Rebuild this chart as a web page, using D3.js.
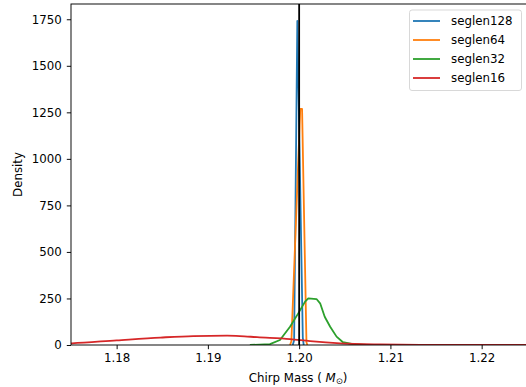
<!DOCTYPE html>
<html>
<head>
<meta charset="utf-8">
<script src="https://cdn.jsdelivr.net/npm/d3@7"></script>
<style>
  body { margin: 0; background: #fff; }
  svg { display: block; font-family: "DejaVu Sans", sans-serif; }
</style>
</head>
<body>
<div id="chart"></div>
<script>
// chirp mass posterior densities per segment length
const seglen128 = [[1.1993, 0], [1.19945, 25], [1.1998, 1741], [1.2004, 40], [1.2005, 0]];
const seglen64 = [[1.1990, 0], [1.19915, 20], [1.20012, 1268], [1.20032, 1268], [1.2008, 15], [1.2009, 0]];
const seglen32 = [[1.1946, 0], [1.1968, 5], [1.1979, 27], [1.1990, 98], [1.1999, 170], [1.20065, 233],
  [1.2010, 251], [1.2019, 247], [1.2023, 224], [1.2028, 152], [1.2034, 98], [1.2041, 45],
  [1.2048, 15], [1.2059, 4], [1.2074, 1], [1.2089, 0]];
const seglen16 = [[1.170, 3], [1.1751, 9], [1.1800, 25], [1.1848, 40], [1.1884, 48], [1.1921, 50],
  [1.1935, 48], [1.1954, 42], [1.1990, 32], [1.2012, 21], [1.2045, 9], [1.2089, 3],
  [1.2133, 1], [1.2250, 0.2], [1.230, 0]];
const seriesNames = ["seglen128", "seglen64", "seglen32", "seglen16"];
const seriesData = [seglen128, seglen64, seglen32, seglen16];
const colors = ["#1f77b4", "#ff7f0e", "#2ca02c", "#d62728"];
const xTicks = [1.18, 1.19, 1.20, 1.21, 1.22];
const yTicks = [0, 250, 500, 750, 1000, 1250, 1500, 1750];
const trueMass = 1.20;

const W = 526, H = 387;
const m = {left: 71, right: 527.3, top: 4, bottom: 345};
const fs = 11.8;

const svg = d3.select("#chart").append("svg")
  .attr("width", W).attr("height", H);

const x = d3.scaleLinear().domain([1.175, 1.225]).range([m.left, m.right]);
const y = d3.scaleLinear().domain([0, 1832]).range([m.bottom, m.top]);

svg.append("defs").append("clipPath").attr("id", "clip")
  .append("rect").attr("x", m.left).attr("y", m.top)
  .attr("width", m.right - m.left).attr("height", m.bottom - m.top);

const plot = svg.append("g").attr("clip-path", "url(#clip)");

const line = d3.line().x(d => x(d[0])).y(d => y(d[1]));
const smooth = d3.line().x(d => x(d[0])).y(d => y(d[1])).curve(d3.curveMonotoneX);

seriesData.forEach((s, i) => {
  plot.append("path")
    .attr("d", i === 3 ? smooth(s) : line(s))
    .attr("fill", "none")
    .attr("stroke", colors[i])
    .attr("stroke-width", 1.8)
    .attr("stroke-linejoin", "round");
});

// true value
plot.append("line")
  .attr("x1", x(trueMass)).attr("x2", x(trueMass))
  .attr("y1", m.top).attr("y2", m.bottom)
  .attr("stroke", "#000").attr("stroke-width", 1.8);

// axes
const xAxis = svg.append("g").attr("transform", `translate(0,${m.bottom})`)
  .call(d3.axisBottom(x).tickValues(xTicks).tickFormat(d3.format(".2f")).tickSize(4.2).tickPadding(4));
const yAxis = svg.append("g").attr("transform", `translate(${m.left},0)`)
  .call(d3.axisLeft(y).tickValues(yTicks).tickFormat(d3.format("d")).tickSize(4.2).tickPadding(5));

[xAxis, yAxis].forEach(a => {
  a.select(".domain").remove();
  a.selectAll("line").attr("stroke", "#000").attr("stroke-width", 0.95);
  a.selectAll("text").attr("font-size", fs).attr("font-family", "DejaVu Sans").attr("fill", "#000");
});

// spines
svg.append("rect")
  .attr("x", m.left).attr("y", m.top)
  .attr("width", m.right - m.left).attr("height", m.bottom - m.top)
  .attr("fill", "none").attr("stroke", "#000").attr("stroke-width", 0.95);

// labels
const xl = svg.append("text")
  .attr("x", 298).attr("y", 382)
  .attr("text-anchor", "middle").attr("font-size", fs);
xl.append("tspan").text("Chirp Mass ( ");
xl.append("tspan").attr("font-style", "italic").text("M");
xl.append("tspan").attr("font-size", fs * 0.7).attr("dy", 2).text("⊙");
xl.append("tspan").attr("dy", -2).text(")");

svg.append("text")
  .attr("transform", `translate(22,${(m.top + m.bottom) / 2}) rotate(-90)`)
  .attr("text-anchor", "middle").attr("font-size", fs)
  .text("Density");

// legend
const lg = svg.append("g");
lg.append("rect")
  .attr("x", 409.5).attr("y", 10).attr("width", 112).attr("height", 80.5)
  .attr("rx", 2.5).attr("fill", "#fff").attr("fill-opacity", 0.8)
  .attr("stroke", "#d6d6d6").attr("stroke-width", 0.95);
seriesNames.forEach((n, i) => {
  const yy = 21 + i * 19;
  lg.append("line").attr("x1", 413).attr("x2", 440).attr("y1", yy).attr("y2", yy)
    .attr("stroke", colors[i]).attr("stroke-width", 1.8);
  lg.append("text").attr("x", 451).attr("y", yy + 4.2)
    .attr("font-size", fs).text(n);
});
</script>
</body>
</html>
